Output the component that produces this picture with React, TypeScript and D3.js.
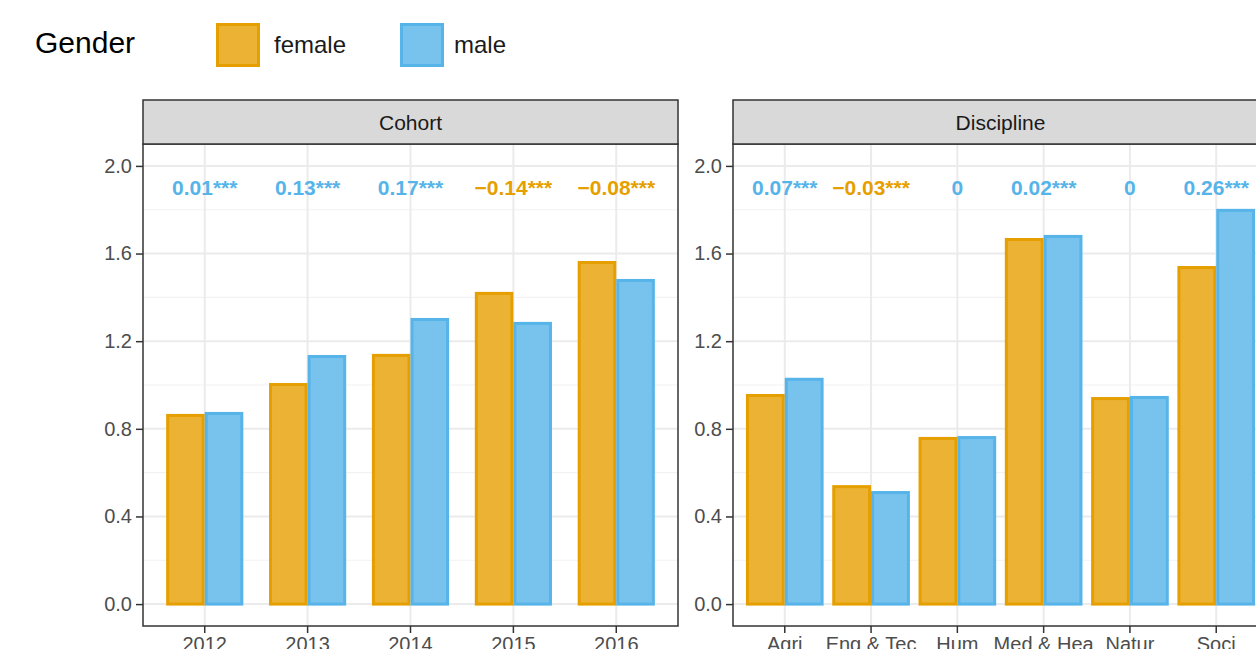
import React, {Component} from "react";
import * as d3 from "d3";

// values
const cohorts = ["2012", "2013", "2014", "2015", "2016"];
const cohortFemale = [0.868, 1.009, 1.142, 1.425, 1.566];
const cohortMale = [0.877, 1.137, 1.306, 1.288, 1.484];
const cohortLabels = ["0.01***", "0.13***", "0.17***", "\u22120.14***", "\u22120.08***"];

const disciplines = ["Agri", "Eng & Tec", "Hum", "Med & Hea", "Natur", "Soci"];
const discFemale = [0.959, 0.543, 0.763, 1.671, 0.945, 1.543];
const discMale = [1.033, 0.516, 0.767, 1.685, 0.950, 1.804];
const discLabels = ["0.07***", "\u22120.03***", "0", "0.02***", "0", "0.26***"];

const genders = ["female", "male"];
const yTicks = [0, 0.4, 0.8, 1.2, 1.6, 2.0];
const yMinor = [0.2, 0.6, 1.0, 1.4, 1.8];

const stroke: {[k: string]: string} = {female: "#E69F00", male: "#56B4E9"};
const fill: {[k: string]: string} = {female: "#EBB233", male: "#78C3ED"};
const FONT = "'Liberation Sans', Arial, Helvetica, sans-serif";

interface Panel {
    title: string;
    cats: string[];
    female: number[];
    male: number[];
    labels: string[];
    left: number;
    barWidth: number; // share of a category step
}

const panels: Panel[] = [
    {title: "Cohort", cats: cohorts, female: cohortFemale, male: cohortMale, labels: cohortLabels, left: 143, barWidth: 0.75},
    {title: "Discipline", cats: disciplines, female: discFemale, male: discMale, labels: discLabels, left: 733, barWidth: 0.9},
];

class App extends Component<{}, {}> {
    svgRef = React.createRef<SVGSVGElement>();

    componentDidMount() {
        const panelW = 535;
        const stripTop = 100, stripH = 44;
        const top = stripTop + stripH;
        const bottom = 626;

        const svg = d3.select(this.svgRef.current);
        svg.selectAll("*").remove();

        // legend
        const legend = svg.append("g").attr("font-family", FONT);
        legend.append("text").attr("x", 35).attr("y", 53)
            .attr("font-size", 30).attr("fill", "#000").text("Gender");
        const legendX = d3.scaleOrdinal<string, number>().domain(genders).range([216, 400]);
        genders.forEach(g => {
            legend.append("rect").attr("x", legendX(g) + 1.5).attr("y", 24.5)
                .attr("width", 41).attr("height", 41)
                .attr("fill", fill[g]).attr("stroke", stroke[g]).attr("stroke-width", 3);
            legend.append("text").attr("x", legendX(g) + (g === "female" ? 58 : 54)).attr("y", 53)
                .attr("font-size", 24).attr("fill", "#1A1A1A").text(g);
        });

        const y = d3.scaleLinear().domain([-0.1, 2.1]).range([bottom, top]);

        panels.forEach(p => {
            const g = svg.append("g").attr("font-family", FONT);
            const x = d3.scaleBand<string>().domain(p.cats)
                .range([p.left, p.left + panelW]).paddingInner(0).paddingOuter(0.1);
            const step = x.step();
            const xc = (c: string) => (x(c) as number) + step / 2;
            const half = p.barWidth / 2 * step;
            const dodge = d3.scaleBand<string>().domain(genders).range([-half, half]);

            // panel background + grid
            g.append("rect").attr("x", p.left).attr("y", top).attr("width", panelW)
                .attr("height", bottom - top).attr("fill", "#fff");
            g.selectAll(".minor").data(yMinor).enter().append("line")
                .attr("x1", p.left).attr("x2", p.left + panelW)
                .attr("y1", d => y(d)).attr("y2", d => y(d))
                .attr("stroke", "#F2F2F2").attr("stroke-width", 1.2);
            g.selectAll(".major").data(yTicks).enter().append("line")
                .attr("x1", p.left).attr("x2", p.left + panelW)
                .attr("y1", d => y(d)).attr("y2", d => y(d))
                .attr("stroke", "#EBEBEB").attr("stroke-width", 2);
            g.selectAll(".vgrid").data(p.cats).enter().append("line")
                .attr("x1", d => xc(d)).attr("x2", d => xc(d))
                .attr("y1", top).attr("y2", bottom)
                .attr("stroke", "#EBEBEB").attr("stroke-width", 2);

            // bars
            const rows = p.cats.flatMap((c, i) => [
                {cat: c, gender: "female", v: p.female[i]},
                {cat: c, gender: "male", v: p.male[i]},
            ]);
            g.selectAll(".bar").data(rows).enter().append("rect")
                .attr("x", d => xc(d.cat) + (dodge(d.gender) as number) + 1.5)
                .attr("width", dodge.bandwidth() - 3)
                .attr("y", d => y(d.v) + 1.5)
                .attr("height", d => y(0) - y(d.v) - 1.5)
                .attr("fill", d => fill[d.gender])
                .attr("stroke", d => stroke[d.gender])
                .attr("stroke-width", 3);

            // difference labels
            g.selectAll(".lab").data(p.labels).enter().append("text")
                .attr("x", (d, i) => xc(p.cats[i]))
                .attr("y", y(1.9))
                .attr("dy", "0.36em")
                .attr("text-anchor", "middle")
                .attr("font-size", 21)
                .attr("font-weight", "bold")
                .attr("fill", d => d.startsWith("\u2212") ? stroke.female : stroke.male)
                .text(d => d);

            // border
            g.append("rect").attr("x", p.left).attr("y", top).attr("width", panelW)
                .attr("height", bottom - top).attr("fill", "none")
                .attr("stroke", "#333333").attr("stroke-width", 1.5);

            // strip
            g.append("rect").attr("x", p.left).attr("y", stripTop).attr("width", panelW)
                .attr("height", stripH).attr("fill", "#D9D9D9")
                .attr("stroke", "#333333").attr("stroke-width", 1.5);
            g.append("text").attr("x", p.left + panelW / 2).attr("y", stripTop + stripH / 2)
                .attr("dy", "0.36em").attr("text-anchor", "middle")
                .attr("font-size", 21).attr("fill", "#1A1A1A").text(p.title);

            // axes
            const yAxis = g.append("g").attr("transform", `translate(${p.left},0)`)
                .call(d3.axisLeft(y).tickValues(yTicks).tickFormat(d3.format(".1f")).tickSize(7).tickPadding(4));
            const xAxis = g.append("g").attr("transform", `translate(0,${bottom})`)
                .call(d3.axisBottom(x).tickSize(7).tickPadding(4));
            [yAxis, xAxis].forEach(a => {
                a.select(".domain").remove();
                a.selectAll(".tick line").attr("stroke", "#333333").attr("stroke-width", 1.5);
                a.selectAll(".tick text").attr("fill", "#4D4D4D").attr("font-size", 20)
                    .attr("font-family", FONT);
            });
        });
    }

    render() {
        return (
            <svg ref={this.svgRef} width={1256} height={649}
                 style={{position: "absolute", left: 0, top: 0, background: "#fff"}}></svg>
        );
    }
}

export default App;
